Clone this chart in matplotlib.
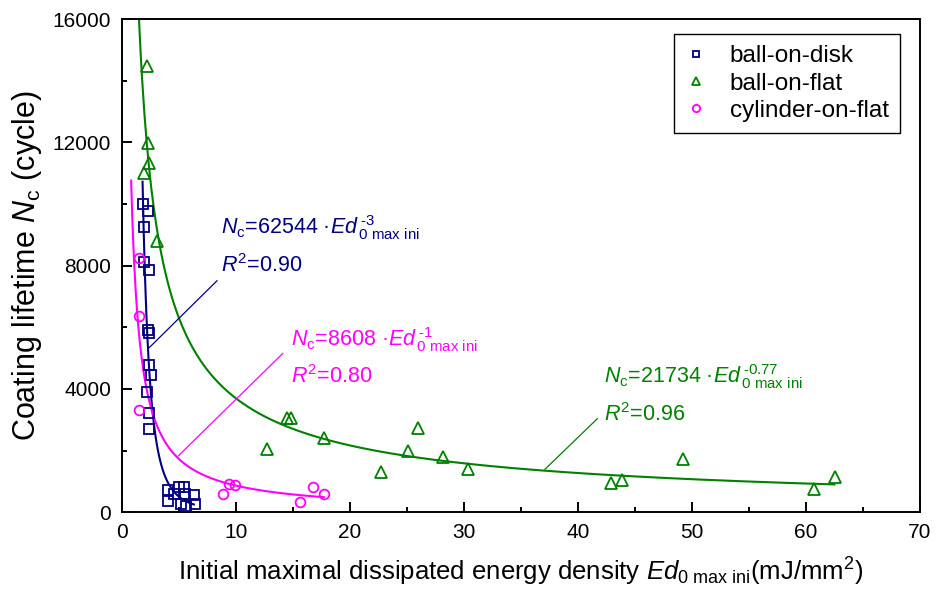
import numpy as np
import matplotlib
matplotlib.use("Agg")
import matplotlib.pyplot as plt
from matplotlib.ticker import MultipleLocator

plt.rcParams["font.family"] = ["Liberation Sans", "DejaVu Sans"]
plt.rcParams["mathtext.fontset"] = "custom"
plt.rcParams["mathtext.rm"] = "Liberation Sans"
plt.rcParams["mathtext.it"] = "Liberation Sans:italic"
plt.rcParams["mathtext.bf"] = "Liberation Sans:bold"

# ---- measured data -------------------------------------------------------
disk_x = [1.86, 2.30, 1.95, 1.95, 2.33, 2.24, 2.33, 2.33, 2.50, 2.19, 2.39, 2.39,
          4.00, 4.05, 4.60, 5.00, 5.40, 5.20, 5.60, 6.30, 6.40, 5.50]
disk_y = [10000, 9770, 9250, 8130, 7870, 5910, 5830, 4780, 4450, 3910, 3210, 2710,
          720, 370, 580, 800, 820, 260, 190, 560, 270, 600]

flat_x = [2.21, 2.30, 2.39, 1.95, 3.09, 12.73, 14.45, 14.86, 17.69, 22.70, 25.06,
          25.93, 28.15, 30.36, 42.86, 43.82, 49.21, 60.72, 62.53]
flat_y = [14480, 11980, 11330, 11010, 8810, 2040, 3050, 3050, 2420, 1310, 1980,
          2740, 1790, 1390, 930, 1030, 1720, 740, 1140]

cyl_x = [1.51, 1.51, 1.51, 8.86, 9.38, 9.88, 15.65, 16.78, 17.74]
cyl_y = [8240, 6360, 3310, 600, 900, 870, 330, 820, 600]

# power-law fits  Nc = a * Ed^b
disk_fit = (62544, -3.0)
flat_fit = (21734, -0.77)
cyl_fit = (8608, -1.0)

NAVY = "#000080"
GREEN = "#008000"
MAGENTA = "#FF00FF"

fig = plt.figure(figsize=(9.46, 5.99), dpi=100)
ax = fig.add_axes([0.129, 0.145, 0.8435, 0.823])

# fitted curves
xd = np.linspace(1.80, 6.3, 300)
ax.plot(xd, disk_fit[0] * xd ** disk_fit[1], color=NAVY, lw=1.5, zorder=2)
xf = np.linspace(1.45, 62.5, 600)
ax.plot(xf, flat_fit[0] * xf ** flat_fit[1], color=GREEN, lw=1.5, zorder=2)
xc = np.linspace(0.80, 17.7, 400)
ax.plot(xc, cyl_fit[0] * xc ** cyl_fit[1], color=MAGENTA, lw=1.5, zorder=2)

# scatter points
ax.plot(disk_x, disk_y, ls="none", marker="s", ms=6.5, mfc="none", mec=NAVY,
        mew=1.3, label="ball-on-disk", zorder=3)
ax.plot(flat_x, flat_y, ls="none", marker="^", ms=8, mfc="none", mec=GREEN,
        mew=1.3, label="ball-on-flat", zorder=3)
ax.plot(cyl_x, cyl_y, ls="none", marker="o", ms=7, mfc="none", mec=MAGENTA,
        mew=1.3, label="cylinder-on-flat", zorder=3)

# annotation leader lines
ax.plot([8.33, 2.39], [7510, 5340], color=NAVY, lw=0.9)
ax.plot([14.1, 4.92], [5150, 1820], color=MAGENTA, lw=0.9)
ax.plot([41.7, 37.1], [3035, 1390], color=GREEN, lw=0.9)

# equations
fs_eq = 15.5
ax.text(8.7, 9040,
        r"$\mathit{N}_{\mathrm{c}}$=62544 ·$\mathit{Ed}^{\,\text{-3}}_{\,\mathrm{0\ max\ ini}}$",
        color=NAVY, fontsize=fs_eq, ha="left", va="baseline")
ax.text(8.7, 7780, r"$\mathit{R}^{\mathrm{2}}$=0.90",
        color=NAVY, fontsize=fs_eq, ha="left", va="baseline")

ax.text(14.85, 5400,
        r"$\mathit{N}_{\mathrm{c}}$=8608 ·$\mathit{Ed}^{\,\text{-1}}_{\,\mathrm{0\ max\ ini}}$",
        color=MAGENTA, fontsize=fs_eq, ha="left", va="baseline")
ax.text(14.85, 4200, r"$\mathit{R}^{\mathrm{2}}$=0.80",
        color=MAGENTA, fontsize=fs_eq, ha="left", va="baseline")

ax.text(42.25, 4200,
        r"$\mathit{N}_{\mathrm{c}}$=21734 ·$\mathit{Ed}^{\,\text{-0.77}}_{\,\mathrm{0\ max\ ini}}$",
        color=GREEN, fontsize=fs_eq, ha="left", va="baseline")
ax.text(42.25, 2960, r"$\mathit{R}^{\mathrm{2}}$=0.96",
        color=GREEN, fontsize=fs_eq, ha="left", va="baseline")

# axes styling
ax.set_xlim(0, 70)
ax.set_ylim(0, 16000)
ax.xaxis.set_major_locator(MultipleLocator(10))
ax.xaxis.set_minor_locator(MultipleLocator(5))
ax.yaxis.set_major_locator(MultipleLocator(4000))
ax.yaxis.set_minor_locator(MultipleLocator(2000))
ax.tick_params(which="both", direction="in", top=False, right=False,
               labelsize=15, width=1.4)
ax.tick_params(which="major", length=7.5, pad=8)
ax.tick_params(which="minor", length=3.8)
for sp in ax.spines.values():
    sp.set_linewidth(1.4)

ax.set_xlabel(r"Initial maximal dissipated energy density $\mathit{Ed}_{\mathrm{0\ max\ ini}}$(mJ/mm$^{\mathrm{2}}$)",
              fontsize=18.5, labelpad=10)
ax.set_ylabel(r"Coating lifetime $\mathit{N}_{\mathrm{c}}$ (cycle)", fontsize=22, labelpad=6)

leg = ax.legend(loc="upper right", bbox_to_anchor=(0.99, 0.994), fontsize=17.5,
                frameon=True, fancybox=False, edgecolor="black", framealpha=1,
                handlelength=0.92, handletextpad=0.94, labelspacing=0.22,
                borderpad=0.45, markerscale=0.75)
leg.get_frame().set_linewidth(1.0)

fig.savefig("out.png", dpi=100)
